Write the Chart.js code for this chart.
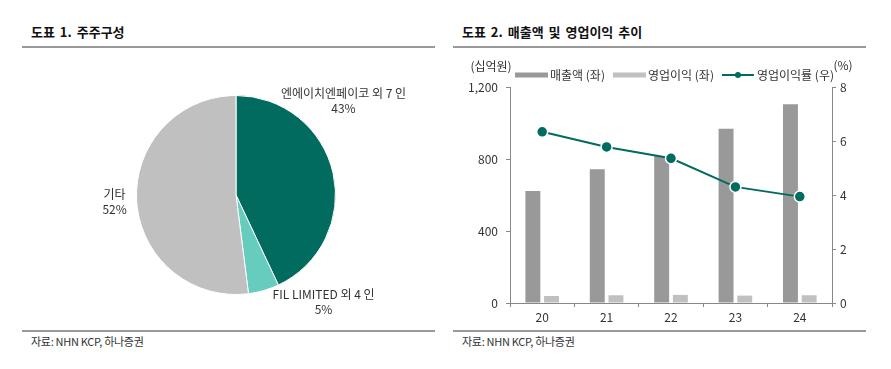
<!DOCTYPE html>
<html>
<head>
<meta charset="utf-8">
<script src="https://cdn.jsdelivr.net/npm/chart.js@4.4.1/dist/chart.umd.min.js"></script>
<style>
body { margin: 0; background: #fff; font-family: "Noto Sans CJK KR", "Noto Sans", sans-serif; color: #333; }
#page { position: relative; width: 891px; height: 369px; overflow: hidden; }
.title { position: absolute; top: 24px; font-size: 13px; line-height: 16px; font-weight: bold; color: #111; word-spacing: 2px; }
.rule { position: absolute; height: 2px; background: #999; }
.src { position: absolute; top: 334px; font-size: 11px; line-height: 14px; letter-spacing: -0.3px; color: #333; }
canvas { position: absolute; }
</style>
</head>
<body>
<div id="page">
  <div class="title" style="left:31px">도표 1. 주주구성</div>
  <div class="rule" style="left:22px;width:413px;top:46px"></div>
  <div class="title" style="left:462px">도표 2. 매출액 및 영업이익 추이</div>
  <div class="rule" style="left:453px;width:413px;top:46px"></div>

  <div style="position:absolute;left:0;top:50px;width:445px;height:280px">
    <canvas id="pieChart"></canvas>
  </div>
  <div style="position:absolute;left:445px;top:50px;width:446px;height:280px">
    <canvas id="barChart"></canvas>
  </div>

  <div class="rule" style="left:22px;width:413px;top:330px"></div>
  <div class="rule" style="left:453px;width:413px;top:330px"></div>
  <div class="src" style="left:31px">자료: NHN KCP, 하나증권</div>
  <div class="src" style="left:462px">자료: NHN KCP, 하나증권</div>
</div>

<script>
// shareholder composition (%)
const holders = ['엔에이치엔페이코 외 7 인', 'FIL LIMITED 외 4 인', '기타'];
const holderShares = [43, 5, 52];

// revenue / operating profit (십억원), margin (%)
const years = ['20', '21', '22', '23', '24'];
const revenue = [622, 743, 817, 968, 1104];
const opProfit = [39, 43, 45, 41, 43];
const opMargin = [6.34, 5.78, 5.36, 4.30, 3.94];

const seriesNames = ['매출액 (좌)', '영업이익 (좌)', '영업이익률 (우)'];

Chart.defaults.font.family = "'Noto Sans CJK KR', 'Noto Sans', sans-serif";
Chart.defaults.font.size = 12;
Chart.defaults.color = '#333';

const TEAL = '#006b5e';

// label spots around the pie, in radius units from its centre
const labelSpots = [[1.08, -0.95], [0.88, 1.07], [-1.22, 0.07]];

const pieLabels = {
    id: 'pieLabels',
    afterDraw(chart) {
        const ctx = chart.ctx;
        const arcs = chart.getDatasetMeta(0).data;
        ctx.save();
        ctx.font = "12px 'Noto Sans CJK KR', 'Noto Sans', sans-serif";
        ctx.fillStyle = '#333';
        ctx.textAlign = 'center';
        ctx.textBaseline = 'middle';
        arcs.forEach(function(arc, i) {
            const r = arc.outerRadius;
            const x = arc.x + labelSpots[i][0] * r;
            const y = arc.y + labelSpots[i][1] * r;
            ctx.fillText(holders[i], x, y - 7.5);
            ctx.fillText(holderShares[i] + '%', x, y + 7.5);
        });
        ctx.restore();
    }
};

new Chart(document.getElementById('pieChart'), {
    type: 'pie',
    data: {
        labels: holders,
        datasets: [{
            data: holderShares,
            backgroundColor: [TEAL, '#66cdbe', '#c0c0c0'],
            borderColor: '#fff',
            borderWidth: 1
        }]
    },
    options: {
        responsive: true,
        maintainAspectRatio: false,
        animation: false,
        layout: { padding: { left: 136, right: 109, top: 45, bottom: 35 } },
        plugins: { legend: { display: false }, tooltip: { enabled: false } }
    },
    plugins: [pieLabels]
});

const barLegend = {
    id: 'barLegend',
    afterDraw(chart) {
        const ctx = chart.ctx;
        ctx.save();
        ctx.font = "12px 'Noto Sans CJK KR', 'Noto Sans', sans-serif";
        ctx.fillStyle = '#333';
        ctx.textBaseline = 'middle';
        ctx.textAlign = 'center';
        ctx.fillText('(십억원)', 46, 16);
        ctx.fillText('(%)', 398, 15);

        ctx.textAlign = 'left';
        const y = 25;
        let x = 70;
        chart.data.datasets.slice().sort((a, b) => a.legendIdx - b.legendIdx).forEach(function(ds) {
            if (ds.type === 'line') {
                ctx.strokeStyle = ds.borderColor;
                ctx.lineWidth = 2;
                ctx.beginPath();
                ctx.moveTo(x, y);
                ctx.lineTo(x + 32, y);
                ctx.stroke();
                ctx.fillStyle = ds.pointBackgroundColor;
                ctx.beginPath();
                ctx.arc(x + 16, y, 3, 0, Math.PI * 2);
                ctx.fill();
            } else {
                ctx.fillStyle = ds.backgroundColor;
                ctx.fillRect(x, y - 2.5, 33, 5);
            }
            x += 35;
            ctx.fillStyle = '#333';
            ctx.fillText(ds.label, x, y);
            x += ctx.measureText(ds.label).width + 8;
        });
        ctx.restore();
    }
};

new Chart(document.getElementById('barChart'), {
    type: 'bar',
    data: {
        labels: years,
        datasets: [
            {
                type: 'line',
                label: seriesNames[2],
                legendIdx: 2,
                data: opMargin,
                yAxisID: 'y2',
                borderColor: TEAL,
                borderWidth: 2,
                pointRadius: 5.5,
                pointBackgroundColor: TEAL,
                pointBorderColor: '#fff',
                pointBorderWidth: 1.5,
                order: 0
            },
            {
                label: seriesNames[0],
                legendIdx: 0,
                data: revenue,
                yAxisID: 'y',
                backgroundColor: '#999999',
                categoryPercentage: 0.58,
                barPercentage: 0.8,
                order: 1
            },
            {
                label: seriesNames[1],
                legendIdx: 1,
                data: opProfit,
                yAxisID: 'y',
                backgroundColor: '#c0c0c0',
                categoryPercentage: 0.58,
                barPercentage: 0.8,
                order: 1
            }
        ]
    },
    options: {
        responsive: true,
        maintainAspectRatio: false,
        animation: false,
        layout: { padding: { top: 37, left: 0, right: 0, bottom: 0 } },
        plugins: { legend: { display: false }, tooltip: { enabled: false } },
        scales: {
            x: {
                offset: true,
                grid: { offset: true, drawOnChartArea: false, tickLength: 4, color: '#888' },
                border: { color: '#888' },
                ticks: { padding: 3, font: { size: 12 } },
                afterFit: function(s) { s.height = 27; }
            },
            y: {
                position: 'left',
                min: 0,
                max: 1200,
                ticks: {
                    stepSize: 400,
                    padding: 8,
                    callback: v => v.toLocaleString('en-US')
                },
                grid: { drawOnChartArea: false, tickLength: 4, color: '#888' },
                border: { color: '#888' },
                afterFit: function(s) { s.width = 65; }
            },
            y2: {
                position: 'right',
                min: 0,
                max: 8,
                ticks: { stepSize: 2, padding: 4 },
                grid: { drawOnChartArea: false, tickLength: 4, color: '#888' },
                border: { color: '#888' },
                afterFit: function(s) { s.width = 59; }
            }
        }
    },
    plugins: [barLegend]
});
</script>
</body>
</html>
